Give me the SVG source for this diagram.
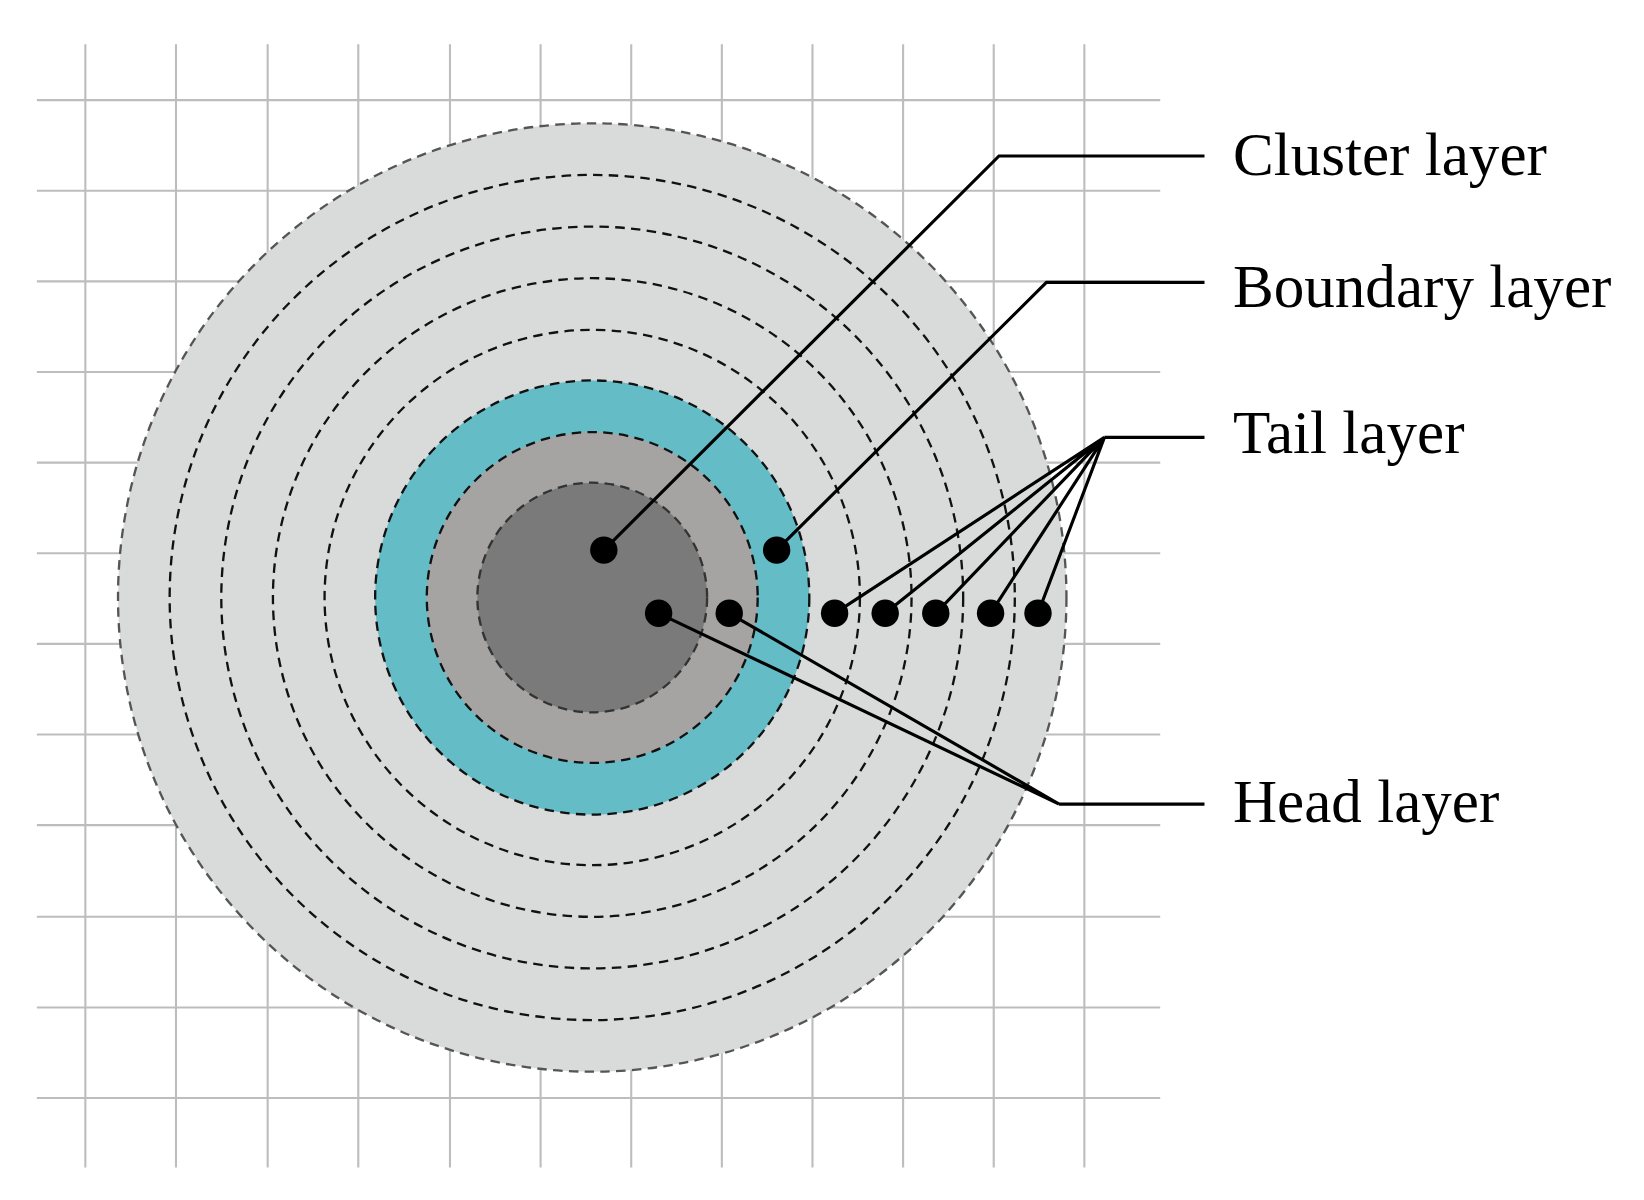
<svg xmlns="http://www.w3.org/2000/svg" width="1644" height="1200" viewBox="0 0 1644 1200">
<style>
.g{stroke:#bdbdbd;stroke-width:2}
.r{fill:none;stroke:#111;stroke-width:2.2;stroke-dasharray:9 6}
.l{fill:none;stroke:#000;stroke-width:3}
.d{fill:#000}
text{font-family:"Liberation Serif","Times New Roman",serif;font-size:58px;fill:#000}
</style>
<rect width="1644" height="1200" fill="#fff"/>
<g transform="scale(1.0538)">
<g id="grid">
<path class="g" d="M81 42V1108M167 42V1108M254 42V1108M340 42V1108M427 42V1108M513 42V1108M599 42V1108M685 42V1108M771 42V1108M857 42V1108M943 42V1108M1029 42V1108"/>
<path class="g" d="M35 95H1101M35 181H1101M35 267H1101M35 353H1101M35 439H1101M35 525H1101M35 611H1101M35 697H1101M35 783H1101M35 870H1101M35 956H1101M35 1042H1101"/>
</g>
<g id="rings">
<circle cx="562" cy="567" r="450" fill="#d9dada" stroke="#555" stroke-width="2.2" stroke-dasharray="9 6"/>
<circle class="r" cx="562" cy="567" r="401"/>
<circle class="r" cx="562" cy="567" r="352"/>
<circle class="r" cx="562" cy="567" r="303"/>
<circle class="r" cx="562" cy="567" r="254"/>
<circle cx="562" cy="567" r="206" fill="#63bcc6" stroke="#111" stroke-width="2.2" stroke-dasharray="9 6"/>
<circle cx="562" cy="567" r="157" fill="#a6a3a3" stroke="#111" stroke-width="2.2" stroke-dasharray="9 6"/>
<circle cx="562" cy="567" r="109" fill="#7a7a7a" stroke="#333" stroke-width="2.2" stroke-dasharray="9 6"/>
</g>
<g id="connectors">
<path class="l" d="M573 522L948 148H1143"/>
<path class="l" d="M737 522L993 268H1143"/>
<path class="l" d="M1048 415H1143M1048 415L792 582M1048 415L840 582M1048 415L888 582M1048 415L940 582M1048 415L985 582"/>
<path class="l" d="M1005 763H1143M1005 763L625 582M1005 763L692 582"/>
</g>
<g id="dots">
<circle class="d" cx="573" cy="522" r="13"/>
<circle class="d" cx="737" cy="522" r="13"/>
<circle class="d" cx="625" cy="582" r="13"/>
<circle class="d" cx="692" cy="582" r="13"/>
<circle class="d" cx="792" cy="582" r="13"/>
<circle class="d" cx="840" cy="582" r="13"/>
<circle class="d" cx="888" cy="582" r="13"/>
<circle class="d" cx="940" cy="582" r="13"/>
<circle class="d" cx="985" cy="582" r="13"/>
</g>
<g id="labels">
<text x="1170" y="166">Cluster layer</text>
<text x="1170" y="291">Boundary layer</text>
<text x="1170" y="430">Tail layer</text>
<text x="1170" y="780">Head layer</text>
</g>
</g>
</svg>
